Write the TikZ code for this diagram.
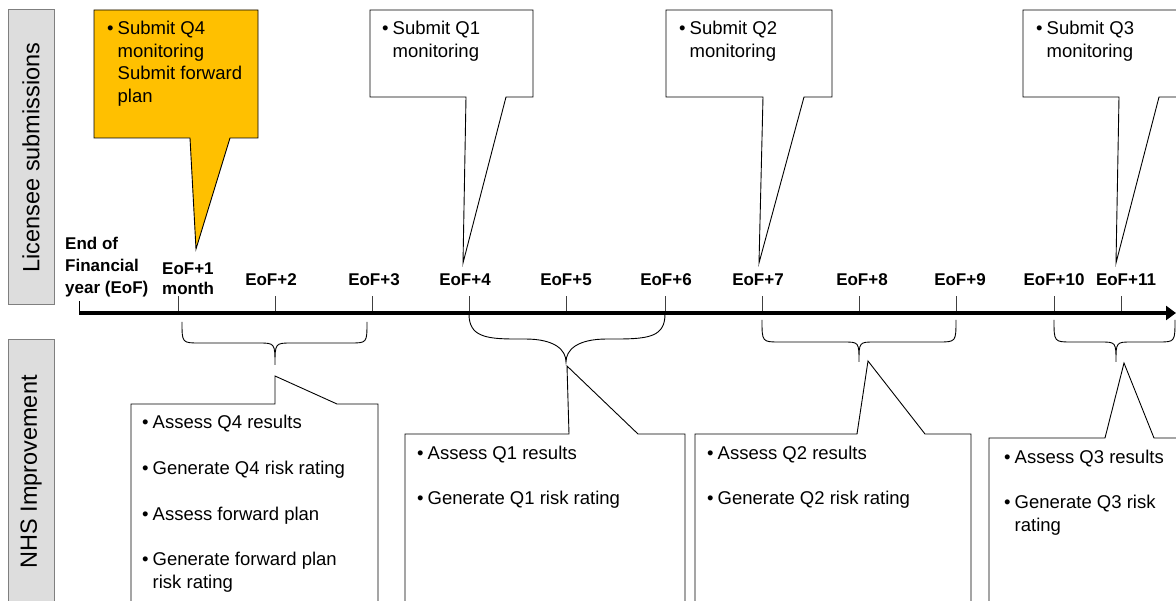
\documentclass[tikz,border=0pt]{standalone}
\usepackage{fontspec}
\setmainfont{Liberation Sans}
\usetikzlibrary{arrows.meta}
\definecolor{orng}{HTML}{FFC000}
\definecolor{sidefill}{HTML}{DDDDDD}
\definecolor{sidedraw}{HTML}{7F7F7F}
\newcommand\bul{\makebox[10.5pt][l]{\textbullet}}
\newcommand\ind{\hspace*{10.5pt}}
\tikzset{
 callout/.style={draw=black, line width=0.9pt, line join=miter, fill=white},
 bubtxt/.style={anchor=base west, inner sep=0pt, font=\fontsize{18.5}{22.5}\selectfont},
 ticklab/.style={anchor=base, inner sep=0pt, font=\fontsize{17}{21}\selectfont\bfseries},
 sidebox/.style={fill=sidefill, draw=sidedraw, line width=1pt},
 sidelab/.style={rotate=90, font=\fontsize{23.5}{28}\selectfont, inner sep=0pt},
 tickmark/.style={draw=black!75, line width=0.9pt},
 bracepath/.style={draw=black, line width=0.9pt},
}
\begin{document}
\begin{tikzpicture}[x=1pt,y=-1pt]
\clip (0,0) rectangle (1176,601);
\fill[white] (0,0) rectangle (1176,601);

% side boxes
\draw[sidebox] (8,10) rectangle (54,305);
\draw[sidebox] (8,340) rectangle (54,640);
\node[sidelab] (lic) at (31,157.5) {Licensee submissions};
\node[sidelab] (nhs) at (31,472) {NHS Improvement};

% timeline
\coordinate (m0) at (79,313);
\coordinate (m1) at (178,313);
\coordinate (m2) at (275,313);
\coordinate (m3) at (372,313);
\coordinate (m4) at (469,313);
\coordinate (m5) at (566,313);
\coordinate (m6) at (665,313);
\coordinate (m7) at (762,313);
\coordinate (m8) at (859,313);
\coordinate (m9) at (956,313);
\coordinate (m10) at (1054,313);
\coordinate (m11) at (1121,313);
\coordinate (axisend) at (1176,313);
\foreach \m in {m1,m2,m3,m4,m5,m6,m7,m8,m9,m10,m11}{
  \draw[tickmark] (\m) -- ++(0,-17);
}
\draw[line width=1pt] (m0) -- ++(0,-12);
\draw[line width=4pt, -{Triangle[length=10pt,width=14pt]}] (m0) -- (axisend);

% tick labels
\node[anchor=base west, inner sep=0pt, font=\fontsize{17}{22}\selectfont\bfseries] (l0) at (65,250)
  {\parbox[t]{90pt}{\raggedright End of\\Financial\\year (EoF)}};
\node[anchor=base west, inner sep=0pt, font=\fontsize{17}{20}\selectfont\bfseries] (l1) at (162,275)
  {\parbox[t]{70pt}{\raggedright EoF+1\\month}};
\node[ticklab] (l2) at (271,286) {EoF+2};
\node[ticklab] (l3) at (374,286) {EoF+3};
\node[ticklab] (l4) at (465,286) {EoF+4};
\node[ticklab] (l5) at (566,286) {EoF+5};
\node[ticklab] (l6) at (666,286) {EoF+6};
\node[ticklab] (l7) at (758,286) {EoF+7};
\node[ticklab] (l8) at (862,286) {EoF+8};
\node[ticklab] (l9) at (960,286) {EoF+9};
\node[ticklab] (l10) at (1054,286) {EoF+10};
\node[ticklab] (l11) at (1126,286) {EoF+11};

% top callouts
\draw[callout, fill=orng] (94,10) -- (258,10) -- (258,138) -- (230,138) -- (196,249) -- (190,138) -- (94,138) -- cycle;
\node[bubtxt] (s4) at (107,35) {\parbox[t]{150pt}{\raggedright\bul Submit Q4\\\ind monitoring\\\ind Submit forward\\\ind plan}};

\draw[callout] (370,10) -- (533,10) -- (533,97) -- (506,97) -- (463,263) -- (466,97) -- (370,97) -- cycle;
\node[bubtxt] (s1) at (382,35) {\parbox[t]{150pt}{\raggedright\bul Submit Q1\\\ind monitoring}};

\draw[callout] (666,10) -- (832,10) -- (832,97) -- (804,97) -- (759,263) -- (763,97) -- (666,97) -- cycle;
\node[bubtxt] (s2) at (679,35) {\parbox[t]{150pt}{\raggedright\bul Submit Q2\\\ind monitoring}};

\draw[callout] (1023,10) -- (1200,10) -- (1200,97) -- (1159,97) -- (1116,263) -- (1119,97) -- (1023,97) -- cycle;
\node[bubtxt] (s3) at (1036,35) {\parbox[t]{150pt}{\raggedright\bul Submit Q3\\\ind monitoring}};

% braces
\draw[bracepath] (182,322) .. controls (182,343) .. (200,343) -- (258,343) .. controls (275,343) .. (275,365)
  .. controls (275,343) .. (292,343) -- (350,343) .. controls (367,343) .. (367,322);
\draw[bracepath] (469,314) .. controls (469,336) and (485,339) .. (515,339) -- (525,339)
  .. controls (555,339) and (566,350) .. (566,362)
  .. controls (566,350) and (577,339) .. (607,339) -- (617,339)
  .. controls (650,339) and (665,336) .. (665,314);
\draw[bracepath] (762,320) .. controls (762,342) .. (780,342) -- (843,342) .. controls (859,342) .. (859,362)
  .. controls (859,342) .. (875,342) -- (938,342) .. controls (956,342) .. (956,320);
\draw[bracepath] (1054,320) .. controls (1054,342) .. (1072,342) -- (1100,342) .. controls (1116,342) .. (1116,362)
  .. controls (1116,342) .. (1132,342) -- (1158,342) .. controls (1175,342) .. (1175,320);

% bottom callouts
\draw[callout] (131,640) -- (131,404) -- (275,404) -- (275,376) -- (337,404) -- (378,404) -- (378,640) -- cycle;
\node[bubtxt] (a4) at (142,429) {\parbox[t]{230pt}{\raggedright\bul Assess Q4 results\\[23.5pt]\bul Generate Q4 risk rating\\[23.5pt]\bul Assess forward plan\\[22.5pt]\bul Generate forward plan\\\ind risk rating}};

\draw[callout] (405,640) -- (405,434) -- (569,434) -- (567,366) -- (638,434) -- (685,434) -- (685,640) -- cycle;
\node[bubtxt] (a1) at (417,460) {\parbox[t]{260pt}{\raggedright\bul Assess Q1 results\\[22.5pt]\bul Generate Q1 risk rating}};

\draw[callout] (695,640) -- (695,434) -- (857,434) -- (868,361) -- (925,434) -- (971,434) -- (971,640) -- cycle;
\node[bubtxt] (a2) at (707,460) {\parbox[t]{260pt}{\raggedright\bul Assess Q2 results\\[22.5pt]\bul Generate Q2 risk rating}};

\draw[callout] (989,640) -- (989,438) -- (1105,438) -- (1124,363) -- (1154,438) -- (1200,438) -- (1200,640) -- cycle;
\node[bubtxt] (a3) at (1004,464) {\parbox[t]{200pt}{\raggedright\bul Assess Q3 results\\[22.5pt]\bul Generate Q3 risk\\\ind rating}};
\end{tikzpicture}
\end{document}
